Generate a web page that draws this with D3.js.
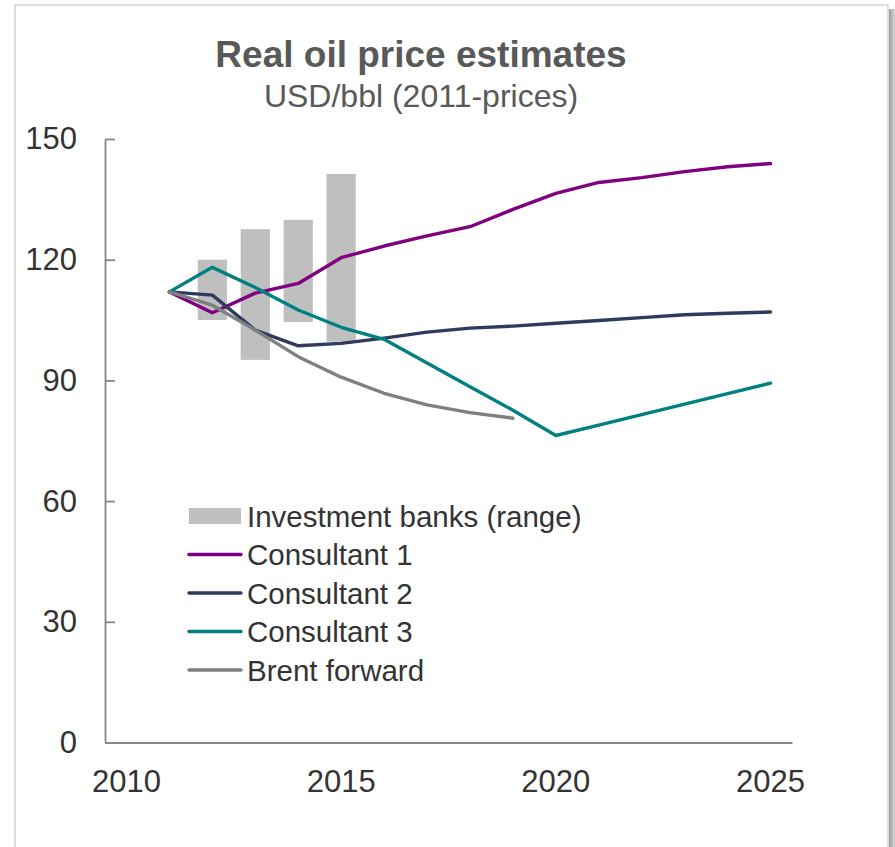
<!DOCTYPE html>
<html>
<head>
<meta charset="utf-8">
<script src="https://cdn.jsdelivr.net/npm/d3@7"></script>
<style>
  html, body { margin: 0; padding: 0; background: #ffffff; }
  svg { display: block; font-family: "Liberation Sans", Arial, sans-serif; }
</style>
</head>
<body>
<svg id="chart" width="895" height="847"></svg>
<script>
// Year slots on the category axis
const axisYears = d3.range(2010, 2026);
const tickYears = [2010, 2015, 2020, 2025];
const yTicks = [0, 30, 60, 90, 120, 150];

// Investment bank forecast ranges (USD/bbl, 2011 prices)
const bankYears = [2012, 2013, 2014, 2015];
const bankLow  = [105, 95.1, 104.5, 99.6];
const bankHigh = [120, 127.6, 129.9, 141.3];

// Line series
const consultantYears = [2011, 2012, 2013, 2014, 2015, 2016, 2017, 2018, 2019, 2020, 2021, 2022, 2023, 2024, 2025];
const consultant1 = [112, 106.8, 111.7, 114.1, 120.5, 123.4, 125.9, 128.2, 132.5, 136.5, 139.2, 140.4, 141.9, 143.1, 143.9];
const consultant2 = [112, 111.2, 102.5, 98.6, 99.2, 100.5, 102.0, 103.0, 103.5, 104.2, 104.9, 105.6, 106.3, 106.7, 107.0];
const consultant3 = [112, 118.1, 113.1, 107.5, 103.2, 100.2, 94.3, 88.4, 82.6, 76.3, 78.9, 81.5, 84.1, 86.7, 89.3];
const brentYears = [2011, 2012, 2013, 2014, 2015, 2016, 2017, 2018, 2019];
const brentForward = [112, 108.7, 102.5, 95.9, 90.8, 86.8, 83.9, 82.0, 80.6];

const seriesNames = ["Investment banks (range)", "Consultant 1", "Consultant 2", "Consultant 3", "Brent forward"];

const colors = {
  bank: "#bfbfbf",
  c1: "#800080",
  c2: "#2f3a5e",
  c3: "#008080",
  brent: "#808080",
  axis: "#868686",
  text: "#333333",
  title: "#595959"
};

const svg = d3.select("#chart");

// Frame with a soft shadow on the right edge
const defs = svg.append("defs");
const grad = defs.append("linearGradient").attr("id", "shade").attr("x1", "0").attr("x2", "1");
grad.append("stop").attr("offset", "0").attr("stop-color", "#9a9a9a");
grad.append("stop").attr("offset", "1").attr("stop-color", "#d8d8d8");
svg.append("rect").attr("x", 889).attr("y", 9).attr("width", 6).attr("height", 860).attr("fill", "url(#shade)");
svg.append("rect").attr("x", 15).attr("y", 5).attr("width", 873).attr("height", 880)
  .attr("fill", "#ffffff").attr("stroke", "#d5d2ce").attr("stroke-width", 1.5);

// Titles
svg.append("text").attr("x", 421).attr("y", 67).attr("text-anchor", "middle")
  .attr("font-size", 37).attr("font-weight", "bold").attr("fill", colors.title)
  .text("Real oil price estimates");
svg.append("text").attr("x", 421).attr("y", 107).attr("text-anchor", "middle")
  .attr("font-size", 32).attr("fill", colors.title)
  .text("USD/bbl (2011-prices)");

// Scales
const x = d3.scaleBand().domain(axisYears).range([105, 792]).padding(0);
const cx = yr => x(yr) + x.bandwidth() / 2;
const y = d3.scaleLinear().domain([0, 150]).range([742.5, 139]);

// Range bars
const barW = x.bandwidth() * 0.68;
svg.append("g").selectAll("rect").data(bankYears).join("rect")
  .attr("x", (d) => cx(d) - barW / 2)
  .attr("width", barW)
  .attr("y", (d, i) => y(bankHigh[i]))
  .attr("height", (d, i) => y(bankLow[i]) - y(bankHigh[i]))
  .attr("fill", colors.bank);

// Lines
const line = d3.line().x(d => cx(d[0])).y(d => y(d[1]));
const lines = [
  { years: consultantYears, values: consultant1, color: colors.c1 },
  { years: consultantYears, values: consultant2, color: colors.c2 },
  { years: consultantYears, values: consultant3, color: colors.c3 },
  { years: brentYears, values: brentForward, color: colors.brent }
];
svg.append("g").selectAll("path").data(lines).join("path")
  .attr("d", s => line(s.years.map((yr, i) => [yr, s.values[i]])))
  .attr("fill", "none")
  .attr("stroke", s => s.color)
  .attr("stroke-width", 3.4)
  .attr("stroke-linejoin", "round")
  .attr("stroke-linecap", "round");

// Axes
const yAxis = svg.append("g").attr("transform", "translate(105,0)")
  .call(d3.axisLeft(y).tickValues(yTicks).tickSizeInner(-10).tickSizeOuter(0).tickPadding(28).tickFormat(d3.format("d")));
const xAxis = svg.append("g").attr("transform", "translate(0,742.5)")
  .call(d3.axisBottom(x).tickValues(tickYears).tickSize(0).tickPadding(27).tickSizeOuter(0));
[yAxis, xAxis].forEach(g => {
  g.select(".domain").attr("stroke", colors.axis).attr("stroke-width", 1.8);
  g.selectAll(".tick line").attr("stroke", colors.axis).attr("stroke-width", 1.8);
  g.selectAll(".tick text").attr("fill", colors.text).attr("font-size", 31)
    .attr("font-family", "'Liberation Sans', Arial, sans-serif");
});

// Legend
const legend = svg.append("g").attr("transform", "translate(189,516)");
const rowH = 38.5;
const legendItems = seriesNames.map((name, i) => ({ name, i }));
const rows = legend.selectAll("g").data(legendItems).join("g")
  .attr("transform", d => `translate(0,${d.i * rowH})`);
rows.filter(d => d.i === 0).append("rect")
  .attr("x", 0).attr("y", -8).attr("width", 52).attr("height", 16).attr("fill", colors.bank);
const legendColors = [null, colors.c1, colors.c2, colors.c3, colors.brent];
rows.filter(d => d.i > 0).append("line")
  .attr("x1", 0).attr("x2", 52).attr("y1", 0).attr("y2", 0)
  .attr("stroke", d => legendColors[d.i]).attr("stroke-width", 3.4).attr("stroke-linecap", "round");
rows.append("text").attr("x", 58).attr("y", 10.5)
  .attr("font-size", 29.5).attr("fill", colors.text)
  .text(d => d.name);
</script>
</body>
</html>
